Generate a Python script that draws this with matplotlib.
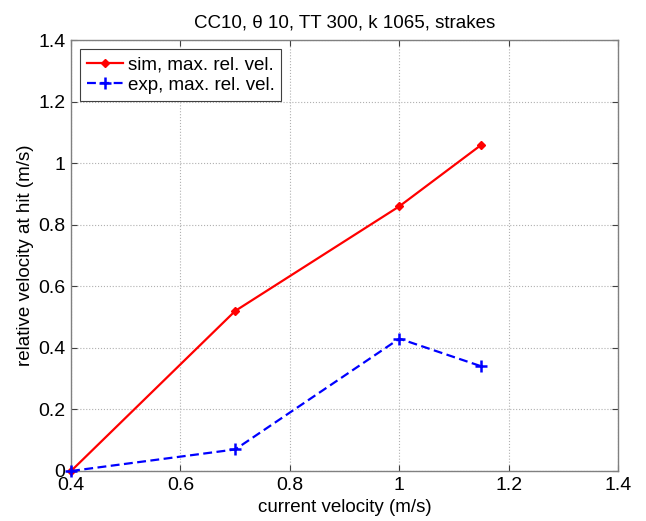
import matplotlib
matplotlib.use('Agg')
import matplotlib.pyplot as plt

# data
current_vel = [0.4, 0.7, 1.0, 1.15]
sim_rel_vel = [0.0, 0.52, 0.86, 1.06]
exp_rel_vel = [0.0, 0.07, 0.43, 0.34]

x_ticks = [0.4, 0.6, 0.8, 1.0, 1.2, 1.4]
x_labels = ['0.4', '0.6', '0.8', '1', '1.2', '1.4']
y_ticks = [0, 0.2, 0.4, 0.6, 0.8, 1.0, 1.2, 1.4]
y_labels = ['0', '0.2', '0.4', '0.6', '0.8', '1', '1.2', '1.4']

plt.rcParams['font.family'] = ['Liberation Sans', 'DejaVu Sans']
plt.rcParams['font.size'] = 13.5

fig = plt.figure(figsize=(6.46, 5.21), dpi=100)
ax = fig.add_axes([0.110, 0.096, 0.847, 0.827])

ax.plot(current_vel, sim_rel_vel, color='red', linestyle='-', marker='D',
        markersize=4.5, linewidth=1.6, label='sim, max. rel. vel.',
        clip_on=False, zorder=3)
ax.plot(current_vel, exp_rel_vel, color='blue', linestyle='--', marker='+',
        markersize=8, markeredgewidth=1.8, linewidth=1.6, dashes=(4, 2),
        label='exp, max. rel. vel.', clip_on=False, zorder=4)

ax.set_xlim(0.4, 1.4)
ax.set_ylim(0, 1.4)
ax.set_xticks(x_ticks)
ax.set_xticklabels(x_labels)
ax.set_yticks(y_ticks)
ax.set_yticklabels(y_labels)
ax.tick_params(direction='in', length=4, width=0.8, color='#404040', pad=4,
               top=True, right=True, labelsize=14)
ax.grid(True, linestyle=':', color='#b0b0b0', linewidth=0.8)
for s in ax.spines.values():
    s.set_color('#808080')
    s.set_linewidth(1.0)

ax.set_xlabel('current velocity (m/s)', fontsize=13.5, labelpad=4)
ax.set_ylabel('relative velocity at hit (m/s)', fontsize=13.5, labelpad=3)
ax.set_title('CC10, \u03b8 10, TT 300, k 1065, strakes', fontsize=13.5, pad=9)

leg = ax.legend(loc='upper left', fontsize=13.5, fancybox=False, framealpha=1,
                edgecolor='#404040', handlelength=1.9, handletextpad=0.27,
                borderpad=0.35, labelspacing=0.2, borderaxespad=0.5)
leg.get_frame().set_linewidth(0.8)

fig.savefig('out.png', dpi=100)
